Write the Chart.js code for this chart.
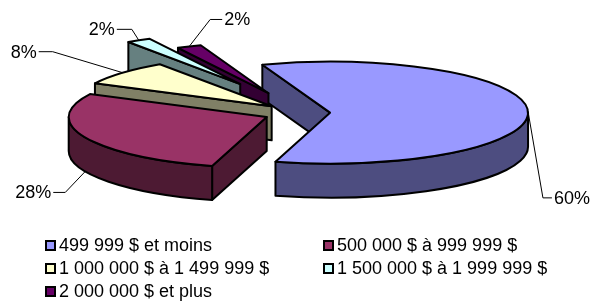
<!DOCTYPE html>
<html lang="fr">
<head>
<meta charset="utf-8">
<script src="https://cdn.jsdelivr.net/npm/chart.js@4.4.1/dist/chart.umd.min.js"></script>
<style>
  html, body { margin: 0; padding: 0; background: #fff; }
  #wrap { position: relative; width: 604px; height: 306px; overflow: hidden; }
  #pie { position: absolute; left: 0; top: 0; }
  .legend-item { position: absolute; display: flex; align-items: center; font: 18px "Liberation Sans", Arial, sans-serif; color: #000; white-space: nowrap; line-height: 20px; }
  .legend-box { width: 7px; height: 7px; border: 2px solid #000; margin-right: 3px; }
</style>
</head>
<body>
<div id="wrap">
  <canvas id="pie" width="604" height="306"></canvas>
  <div id="legend"></div>
</div>
<script>
const categories = ["499 999 $ et moins", "500 000 $ à 999 999 $", "1 000 000 $ à 1 499 999 $", "1 500 000 $ à 1 999 999 $", "2 000 000 $ et plus"];
const shares = [60, 28, 8, 2, 2];
const pctLabels = ["60%", "28%", "8%", "2%", "2%"];

const topColors = ["#9999ff", "#993366", "#ffffcc", "#ccffff", "#660066"];
const sideColors = ["#4d4d80", "#4d1a33", "#808066", "#668080", "#330033"];
const explode = [16.7, 16.7, 17, 56, 36];        // pull-out of each slice, in pie radius units (radius 100)
const leaders = [[15, 87, 9], [-20, 21, -12], [-70, -21, -14], [-7, -11, -15], [21, -27, 12]]; // elbow dx, dy, tail
const legendCols = [45, 323];
const legendRows = [235, 258, 281];

const VIEW = { cx: 297, cy: 113, rx: 198, ry: 51, depth: 34, r: 100, lift: 0.6 };
const SX = VIEW.rx / VIEW.r, SY = VIEW.ry / VIEW.r;
const FONT = '18px "Liberation Sans", Arial, sans-serif';

// pull-out vector in screen px (back slices rise a little more, like Excel's perspective)
function pull(arc, i) {
  const mid = (arc.startAngle + arc.endAngle) / 2;
  return [explode[i] * SX * Math.cos(mid), explode[i] * VIEW.lift * Math.sin(mid)];
}
function pt(arc, i, theta, r, dz) {
  const [px, py] = pull(arc, i);
  return [VIEW.cx + px + SX * r * Math.cos(theta),
          VIEW.cy + py + SY * r * Math.sin(theta) + (dz || 0)];
}

function polygon(ctx, pts, fill) {
  ctx.beginPath();
  pts.forEach((p, k) => (k ? ctx.lineTo(p[0], p[1]) : ctx.moveTo(p[0], p[1])));
  ctx.closePath();
  ctx.fillStyle = fill;
  ctx.fill();
  ctx.stroke();
}
function radialWall(ctx, arc, i, theta) {
  const D = VIEW.depth, R = arc.outerRadius;
  polygon(ctx, [pt(arc, i, 0, 0, 0), pt(arc, i, theta, R, 0), pt(arc, i, theta, R, D), pt(arc, i, 0, 0, D)], sideColors[i]);
}
function outerWall(ctx, arc, i, lo, hi) {
  const [ax, ay] = pt(arc, i, 0, 0, 0);
  const rx = SX * arc.outerRadius, ry = SY * arc.outerRadius;
  ctx.beginPath();
  ctx.ellipse(ax, ay, rx, ry, 0, lo, hi, false);
  ctx.ellipse(ax, ay + VIEW.depth, rx, ry, 0, hi, lo, true);
  ctx.closePath();
  ctx.fillStyle = sideColors[i];
  ctx.fill();
  ctx.stroke();
}

function drawSlice(ctx, arc, i) {
  const s = arc.startAngle, e = arc.endAngle;
  ctx.save();
  ctx.lineWidth = 2;
  ctx.lineJoin = "round";
  ctx.strokeStyle = "#000";
  if (Math.cos(s) < 0) radialWall(ctx, arc, i, s);
  if (Math.cos(e) > 0) radialWall(ctx, arc, i, e);
  for (let k = -1; k <= 2; k++) {
    const lo = Math.max(s, k * 2 * Math.PI), hi = Math.min(e, k * 2 * Math.PI + Math.PI);
    if (hi > lo) outerWall(ctx, arc, i, lo, hi);
  }
  ctx.restore();

  // top face: the library's own arc, squashed into the tilted ellipse
  const [px, py] = pull(arc, i);
  ctx.save();
  ctx.translate(VIEW.cx + px, VIEW.cy + py);
  ctx.scale(SX, SY);
  ctx.translate(-arc.x, -arc.y);
  arc.draw(ctx);
  ctx.restore();

  ctx.save();
  ctx.lineWidth = 2;
  ctx.lineJoin = "round";
  ctx.strokeStyle = "#000";
  const [ax, ay] = pt(arc, i, 0, 0, 0);
  ctx.beginPath();
  ctx.moveTo(ax, ay);
  ctx.ellipse(ax, ay, SX * arc.outerRadius, SY * arc.outerRadius, 0, s, e, false);
  ctx.closePath();
  ctx.stroke();
  ctx.restore();
}

const pie3d = {
  id: "pie3d",
  beforeDatasetsDraw(chart) {
    const ctx = chart.ctx;
    const arcs = chart.getDatasetMeta(0).data;
    // back to front: the big slice, then the others counter-clockwise
    const order = [0].concat(arcs.map((_, i) => i).slice(1).reverse());
    order.forEach((i) => drawSlice(ctx, arcs[i], i));
    return false;
  },
  afterDraw(chart) {
    const ctx = chart.ctx;
    const arcs = chart.getDatasetMeta(0).data;
    ctx.save();
    ctx.lineWidth = 1;
    ctx.strokeStyle = "#000";
    ctx.font = FONT;
    ctx.fillStyle = "#000";
    ctx.textBaseline = "middle";
    arcs.forEach((arc, i) => {
      const mid = (arc.startAngle + arc.endAngle) / 2;
      const dz = Math.sin(mid) > 0 ? VIEW.depth : 0;
      const [x0, y0] = pt(arc, i, mid, arc.outerRadius, dz);
      const [dx, dy, tail] = leaders[i];
      const x1 = x0 + dx, y1 = y0 + dy, x2 = x1 + tail;
      ctx.beginPath();
      ctx.moveTo(x0, y0);
      ctx.lineTo(x1, y1);
      ctx.lineTo(x2, y1);
      ctx.stroke();
      ctx.textAlign = tail > 0 ? "left" : "right";
      ctx.fillText(pctLabels[i], x2 + (tail > 0 ? 2 : -2), y1 + 1);
    });
    ctx.restore();
  }
};

new Chart(document.getElementById("pie"), {
  type: "pie",
  data: {
    labels: categories,
    datasets: [{
      data: shares,
      backgroundColor: topColors,
      borderWidth: 0,
      hoverOffset: 0
    }]
  },
  options: {
    responsive: false,
    maintainAspectRatio: false,
    devicePixelRatio: 1,
    animation: false,
    events: [],
    rotation: -20,
    radius: VIEW.r,
    layout: { padding: 0 },
    plugins: { legend: { display: false }, tooltip: { enabled: false } }
  },
  plugins: [pie3d]
});

const legend = document.getElementById("legend");
categories.forEach((name, i) => {
  const item = document.createElement("div");
  item.className = "legend-item";
  item.style.left = legendCols[i % 2] + "px";
  item.style.top = legendRows[Math.floor(i / 2)] + "px";
  item.innerHTML = `<span class="legend-box" style="background:${topColors[i]}"></span><span>${name}</span>`;
  legend.appendChild(item);
});
</script>
</body>
</html>
